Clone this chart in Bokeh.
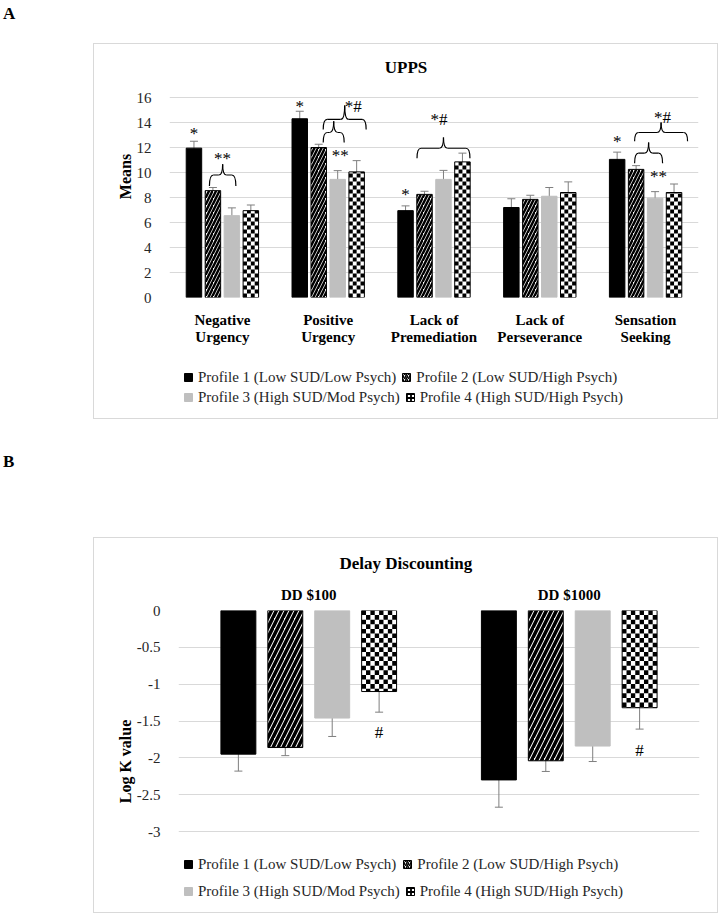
import math
from bokeh.plotting import figure
from bokeh.models import (ColumnDataSource, FixedTicker, Whisker, TeeHead, Legend, LegendItem,
                          Label, LabelSet, Div, Spacer, Range1d)
from bokeh.layouts import column, row
from bokeh.embed import file_html
from bokeh.resources import INLINE

FONT = "Liberation Serif"

# ---------------- data ----------------
profile_names = ["Profile 1 (Low SUD/Low Psych)", "Profile 2 (Low SUD/High Psych)",
                 "Profile 3 (High SUD/Mod Psych)", "Profile 4 (High SUD/High Psych)"]

upps_categories = ["Negative\nUrgency", "Positive\nUrgency", "Lack of\nPremediation",
                   "Lack of\nPerseverance", "Sensation\nSeeking"]
upps_ticks = [0, 2, 4, 6, 8, 10, 12, 14, 16]
upps_p1 = [11.95, 14.30, 6.95, 7.20, 11.05]
upps_p2 = [8.55, 12.00, 8.25, 7.85, 10.25]
upps_p3 = [6.55, 9.45, 9.45, 8.10, 7.95]
upps_p4 = [6.95, 10.05, 10.85, 8.40, 8.40]
upps_p1_err = [0.55, 0.60, 0.38, 0.70, 0.58]
upps_p2_err = [0.25, 0.26, 0.25, 0.33, 0.30]
upps_p3_err = [0.62, 0.70, 0.72, 0.70, 0.52]
upps_p4_err = [0.45, 0.90, 0.70, 0.85, 0.68]

dd_categories = ["DD $100", "DD $1000"]
dd_ticks = [0, -0.5, -1, -1.5, -2, -2.5, -3]
dd_tick_labels = ["0", "-0.5", "-1", "-1.5", "-2", "-2.5", "-3"]
dd_p1 = [-1.95, -2.30]
dd_p2 = [-1.86, -2.04]
dd_p3 = [-1.46, -1.84]
dd_p4 = [-1.10, -1.32]
dd_p1_err = [0.23, 0.37]
dd_p2_err = [0.11, 0.145]
dd_p3_err = [0.25, 0.21]
dd_p4_err = [0.28, 0.29]

# significance marks: (text, category, anchor profile or None, dx px, y value)
upps_marks = [("*", 0, 0, 0, 13.45), ("**", 0, None, 0, 11.45),
              ("*", 1, 0, 0, 15.6), ("*#", 1, 3, -3.5, 15.6), ("**", 1, 2, 2.5, 11.7),
              ("*", 2, 0, 0, 8.6), ("*#", 2, None, 5, 14.57),
              ("*", 4, 0, 0, 12.8), ("*#", 4, 2, 7.5, 14.73), ("**", 4, 2, 3.5, 10.03)]
# braces: (category, from profile, dx px, to profile, dx px, y ends, y bar, y peak)
upps_braces = [(0, 1, -3.5, 2, 4.0, 8.92, 9.8, 10.67),
               (1, 1, 4.5, 2, 6.5, 12.4, 13.2, 14.1),
               (1, 1, 4.5, 3, 9.5, 13.45, 14.25, 15.37),
               (2, 1, -7.5, 3, 7.5, 11.15, 11.94, 12.8),
               (4, 1, -1.5, 2, 7.5, 10.75, 11.55, 12.4),
               (4, 1, -1.5, 3, 13.5, 12.5, 13.2, 14.0)]
dd_marks = [("#", 0, 3, 0, -1.66), ("#", 1, 3, 0, -1.90)]

# ---------------- styling ----------------
EB = "#7f7f7f"
GRID = "#d9d9d9"
TXT = "#262626"
BOX = {"outline": "1px solid #d9d9d9"}


def bar_styles(stripe):
    return [dict(fill_color="black", line_color="black"),
            dict(fill_color="white", line_color="black", hatch_pattern="right_diagonal_line",
                 hatch_color="black", hatch_scale=stripe[0], hatch_weight=stripe[1]),
            dict(fill_color="#bfbfbf", line_color="#bfbfbf"),
            dict(fill_color="white", line_color="black")]


def swatch_styles():
    s = bar_styles((4, 1.6))
    s[3] = dict(fill_color="white", line_color="black", hatch_pattern="cross",
                hatch_color="black", hatch_scale=4, hatch_weight=1.8)
    return s


def add_legends(fig, rows):
    # swatch markers with no visible position; they only feed the legend glyphs
    nan = float("nan")
    rends = [fig.scatter(x=[nan], y=[nan], marker="square", size=8, line_width=1, **st)
             for st in swatch_styles()]
    for idx, vx, vy, sp in rows:
        leg = Legend(items=[LegendItem(label=profile_names[k], renderers=[rends[k]]) for k in idx],
                     location=(vx, vy), orientation="horizontal", padding=0, margin=0,
                     spacing=sp, border_line_color=None, background_fill_alpha=0,
                     glyph_width=20, glyph_height=20, label_height=20, label_standoff=-1,
                     label_text_font=FONT, label_text_font_size="15px", label_text_color=TXT,
                     label_text_baseline="middle")
        fig.add_layout(leg)


def make_chart(cats, series, errs, ticks, labels, yr, frame, x_loc, bar_w, pitch,
               stripe, cell_px, cap, ylabel, marks, braces, x_standoff, title=None):
    fw, fh, fl, fr, ft, fb = frame
    n = len(cats)
    p = figure(width=fw, height=fh, x_range=Range1d(0, n), y_range=Range1d(*yr),
               output_backend="svg", toolbar_location=None, x_axis_location=x_loc, title=title,
               min_border_left=fl, min_border_right=fr, min_border_top=ft, min_border_bottom=fb)
    p.outline_line_color = None
    p.xgrid.visible = False
    p.ygrid.grid_line_color = GRID
    p.ygrid.ticker = FixedTicker(ticks=ticks)
    cat_px = (fw - fl - fr) / n
    unit_px = (fh - ft - fb) / (yr[1] - yr[0])

    def cx(c, k):
        return c + 0.5 + (k - 1.5) * pitch

    xa = p.xaxis[0]
    xa.ticker = FixedTicker(ticks=[i + 0.5 for i in range(n)])
    xa.major_label_overrides = {i + 0.5: c for i, c in enumerate(cats)}
    xa.axis_line_color = None
    xa.major_tick_line_color = None
    xa.minor_tick_line_color = None
    xa.major_label_text_font = FONT
    xa.major_label_text_font_style = "bold"
    xa.major_label_text_font_size = "15px"
    xa.major_label_text_color = "black"
    xa.major_label_text_line_height = 1.1
    xa.major_label_standoff = x_standoff

    ya = p.yaxis[0]
    ya.ticker = FixedTicker(ticks=ticks)
    ya.major_label_overrides = {(int(t) if t == int(t) else t): l for t, l in zip(ticks, labels)}
    ya.axis_line_color = None
    ya.major_tick_line_color = None
    ya.minor_tick_line_color = None
    ya.major_label_text_font = FONT
    ya.major_label_text_font_size = "15px"
    ya.major_label_text_color = TXT
    ya.major_label_standoff = 12
    ya.axis_label = ylabel
    ya.axis_label_text_font = FONT
    ya.axis_label_text_font_style = "bold"
    ya.axis_label_text_font_size = "16px"
    ya.axis_label_text_color = "black"
    ya.axis_label_standoff = 0

    styles = bar_styles(stripe)
    for k in range(4):
        xs = [cx(i, k) for i in range(n)]
        src = ColumnDataSource(dict(x=xs, top=series[k]))
        p.vbar(x="x", top="top", bottom=0, width=bar_w, source=src, line_width=1, **styles[k])

    # checkerboard fill for profile 4, cells derived from each bar's value
    ncol = max(2, round(bar_w * cat_px / cell_px))
    cw = bar_w / ncol
    ch = cell_px / unit_px
    L, R, B, T = [], [], [], []
    for i, v in enumerate(series[3]):
        left = cx(i, 3) - bar_w / 2
        sgn = 1 if v >= 0 else -1
        nrow = math.ceil(abs(v) / ch)
        for rr in range(nrow):
            a = rr * ch
            b = min((rr + 1) * ch, abs(v))
            for cc in range(ncol):
                if (rr + cc) % 2 == 0:
                    L.append(left + cc * cw)
                    R.append(left + (cc + 1) * cw)
                    B.append(sgn * a)
                    T.append(sgn * b)
    p.quad(left=L, right=R, bottom=B, top=T, fill_color="black", line_color=None)

    for k in range(4):
        xs = [cx(i, k) for i in range(n)]
        src = ColumnDataSource(dict(x=xs, upper=[v + e for v, e in zip(series[k], errs[k])],
                                    lower=[v - e for v, e in zip(series[k], errs[k])]))
        w = Whisker(source=src, base="x", upper="upper", lower="lower", line_color=EB, line_width=1,
                    upper_head=TeeHead(size=cap, line_color=EB, line_width=1),
                    lower_head=TeeHead(size=cap, line_color=EB, line_width=1))
        p.add_layout(w)

    for (c, k0, d0, k1, d1, yb, ym, yp) in braces:
        x0 = cx(c, k0) + d0 / cat_px
        x1 = cx(c, k1) + d1 / cat_px
        xm = (x0 + x1) / 2
        q = 4 / cat_px
        p.quadratic(x0=[x0, x1, xm - q, xm + q], y0=[yb, yb, ym, ym],
                    x1=[x0 + q, x1 - q, xm, xm], y1=[ym, ym, yp, yp],
                    cx=[x0, x1, xm, xm], cy=[ym, ym, ym, ym], line_color="black", line_width=1.2)
        p.segment(x0=[x0 + q, xm + q], y0=[ym, ym], x1=[xm - q, x1 - q], y1=[ym, ym],
                  line_color="black", line_width=1.2)

    mx, my, mt, mo = [], [], [], []
    for (t, c, k, d, y) in marks:
        base = c + 0.5 if k is None else cx(c, k)
        mx.append(base + d / cat_px)
        my.append(y)
        mt.append(t)
        mo.append(-4 if t.startswith("*") else 0)
    ms = ColumnDataSource(dict(x=mx, y=my, t=mt, o=mo))
    p.add_layout(LabelSet(x="x", y="y", text="t", source=ms, y_offset="o", text_align="center",
                          text_baseline="middle", text_font=FONT, text_font_size="17px",
                          text_color="black"))
    return p, cat_px


# ---- top chart: box (93..717, 43..418); figure at (94,44); frame x 169..699, y 55..297
p1, cat1 = make_chart(upps_categories, [upps_p1, upps_p2, upps_p3, upps_p4],
                      [upps_p1_err, upps_p2_err, upps_p3_err, upps_p4_err],
                      upps_ticks, [str(t) for t in upps_ticks], (0, 19.36),
                      (623, 306, 75, 19, 11, 53), "below", 15.5 / 106, 19 / 106,
                      (7, 2.5), 4, 8, "Means", upps_marks, upps_braces, 8)
p1.add_layout(Label(x=(623 / 2 - 75) / cat1, y=18.4, text="UPPS", text_align="center",
                    text_baseline="middle", text_font=FONT, text_font_style="bold",
                    text_font_size="17px", text_color="black"))

leg1 = figure(width=623, height=68, x_range=Range1d(0, 1), y_range=Range1d(0, 1),
              output_backend="svg", toolbar_location=None, title=None,
              x_axis_type=None, y_axis_type=None, min_border=0)
leg1.outline_line_color = None
leg1.grid.visible = False
add_legends(leg1, [([0, 1], 9, 31, -10), ([2, 3], 9, 11, -10)])

# ---- bottom chart: box (93..717, 537..912); figure at (94,538); frame x 178..700, y 610..912
p2, cat2 = make_chart(dd_categories, [dd_p1, dd_p2, dd_p3, dd_p4],
                      [dd_p1_err, dd_p2_err, dd_p3_err, dd_p4_err],
                      dd_ticks, dd_tick_labels, (-3 - 81 / 73.67, 0),
                      (623, 374, 84, 18, 72, 0), "above", 35 / 261, 47 / 261,
                      (10, 3.5), 4.6, 8, "Log K value", dd_marks, [], 2, title="Delay Discounting")
p2.title.align = "left"
p2.title.offset = 405 - 66 - 178
p2.title.text_font = FONT
p2.title.text_font_style = "bold"
p2.title.text_font_size = "17px"
p2.title.text_color = "black"
p2.title.standoff = 22
add_legends(p2, [([0, 1], 0, 38, 1), ([2, 3], 0, 11, -3)])
p2.styles = BOX

lab = '<div style="font-family:\'Liberation Serif\'; font-weight:bold; font-size:17px; padding:{}px 0 0 3px;">{}</div>'
divA = Div(text=lab.format(2, "A"), width=720, height=44, margin=0)
divB = Div(text=lab.format(32, "B"), width=720, height=120, margin=0)

top_box = column(p1, leg1, spacing=0, styles=BOX)
layout = column(divA,
                row(Spacer(width=94, height=374, margin=0), top_box, spacing=0),
                divB,
                row(Spacer(width=94, height=374, margin=0), p2, spacing=0),
                spacing=0)

open("out.html", "w").write(file_html(layout, INLINE))
